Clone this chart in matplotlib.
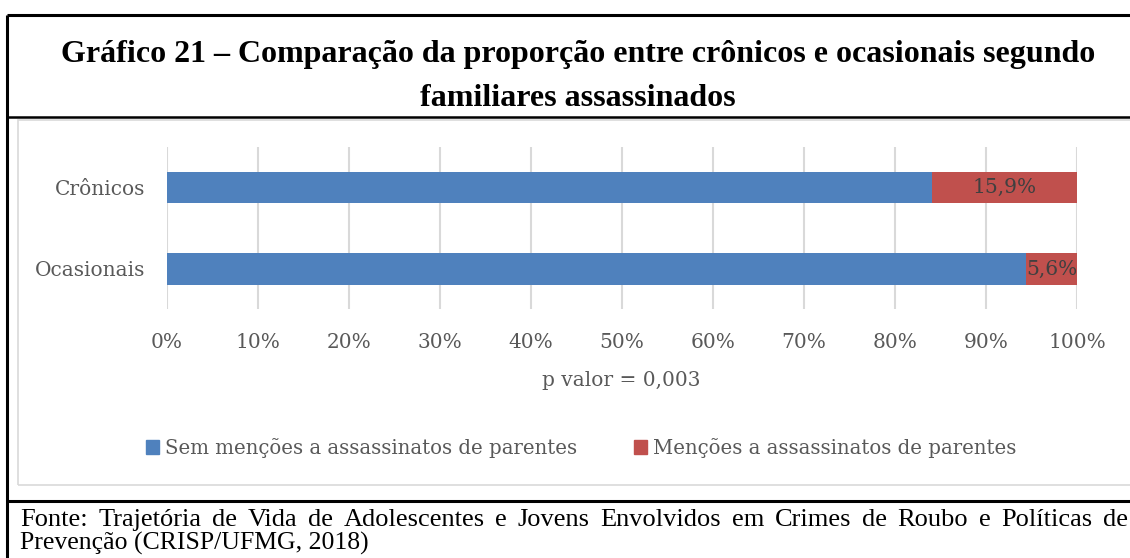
import matplotlib
matplotlib.use("Agg")
import matplotlib.pyplot as plt
from matplotlib.lines import Line2D
from matplotlib.patches import Rectangle, Patch
import numpy as np

# dados
categorias = ["Ocasionais", "Crônicos"]
sem_mencoes = [94.4, 84.1]
com_mencoes = [5.6, 15.9]
rotulos_mencoes = ["5,6%", "15,9%"]
series = ["Sem menções a assassinatos de parentes",
          "Menções a assassinatos de parentes"]
ticks = np.arange(0, 101, 10)
titulo = ["Gráfico 21 – Comparação da proporção entre crônicos e ocasionais segundo",
          "familiares assassinados"]
nota = "p valor = 0,003"
fonte = ["Fonte: Trajetória de Vida de Adolescentes e Jovens Envolvidos em Crimes de Roubo e Políticas de",
         "Prevenção (CRISP/UFMG, 2018)"]

W, H = 1130, 558
azul = "#4F81BD"
vermelho = "#C0504D"
cinza_txt = "#595959"
cinza_grade = "#D9D9D9"
serif_ax = "DejaVu Serif"
tam = 14.5


def fx(x):
    return x / W


def fy(y):
    return 1 - y / H


def justificado(fig, texto, x0, x1, y, **kw):
    # espalha as palavras entre x0 e x1 (texto justificado)
    r = fig.canvas.get_renderer()
    palavras = texto.split(" ")
    objs = [fig.text(0, fy(y), p, ha="left", va="baseline", **kw) for p in palavras]
    larg = [o.get_window_extent(r).width for o in objs]
    esp = (x1 - x0 - sum(larg)) / (len(palavras) - 1)
    x = x0
    for o, w in zip(objs, larg):
        o.set_x(fx(x))
        x += w + esp


fig = plt.figure(figsize=(W / 100, H / 100), dpi=100)

# bordas da tabela
for (x0, y0, x1, y1, lw) in [(7, 15, W, 15, 2.2), (7, 15, 7, H, 2.2),
                              (7, 117, W, 117, 1.8), (7, 501, W, 501, 2.2)]:
    fig.add_artist(Line2D([fx(x0), fx(x1)], [fy(y0), fy(y1)],
                          color="black", lw=lw, solid_capstyle="butt"))
fig.add_artist(Rectangle((fx(18), fy(485)), fx(1140) - fx(18), fy(120) - fy(485),
                         transform=fig.transFigure, fill=False,
                         edgecolor=cinza_grade, lw=1.2))

# titulo
fig.text(fx(578), fy(62), titulo[0], ha="center", va="baseline",
         family="Liberation Serif", weight="bold", fontsize=23)
fig.text(fx(578), fy(106), titulo[1], ha="center", va="baseline",
         family="Liberation Serif", weight="bold", fontsize=23)

# grafico
ax = fig.add_axes([fx(167), fy(309), fx(1077) - fx(167), fy(147) - fy(309)])
y = np.arange(len(categorias))
h = 0.387
ax.barh(y, sem_mencoes, height=h, color=azul, zorder=3)
barras = ax.barh(y, com_mencoes, left=sem_mencoes, height=h, color=vermelho, zorder=3)
for b, txt in zip(barras, rotulos_mencoes):
    ax.text(b.get_x() + b.get_width() / 2, b.get_y() + b.get_height() / 2, txt,
            ha="center", va="center", color="#404040", family=serif_ax, fontsize=tam,
            zorder=4)
ax.set_xlim(0, 100)
ax.set_ylim(-0.491, 1.497)
ax.set_xticks(ticks)
ax.set_xticklabels([f"{t}%" for t in ticks])
ax.set_yticks(y)
ax.set_yticklabels(categorias)
ax.tick_params(length=0, labelsize=tam, labelcolor=cinza_txt)
ax.tick_params(axis="x", pad=17)
ax.tick_params(axis="y", pad=16)
for lbl in ax.get_xticklabels() + ax.get_yticklabels():
    lbl.set_family(serif_ax)
ax.grid(axis="x", color=cinza_grade, lw=1.5, zorder=0)
for s in ax.spines.values():
    s.set_visible(False)

fig.text(fx(621), fy(380), nota, ha="center", va="center",
         color=cinza_txt, family=serif_ax, fontsize=tam)

# legenda
alcas = [Patch(color=azul), Patch(color=vermelho)]
fig.legend(alcas, series, loc="center", bbox_to_anchor=(fx(581), fy(448)),
           ncol=2, frameon=False, handlelength=0.65, handleheight=0.65,
           handletextpad=0.3, columnspacing=2.9,
           prop={"family": serif_ax, "size": 14.2}, labelcolor=cinza_txt)

# fonte
justificado(fig, fonte[0], 20, 1128, 526, family="Liberation Serif", fontsize=19)
fig.text(fx(20), fy(550), fonte[1], ha="left", va="baseline",
         family="Liberation Serif", fontsize=18.5)

fig.savefig("out.png", dpi=100)
